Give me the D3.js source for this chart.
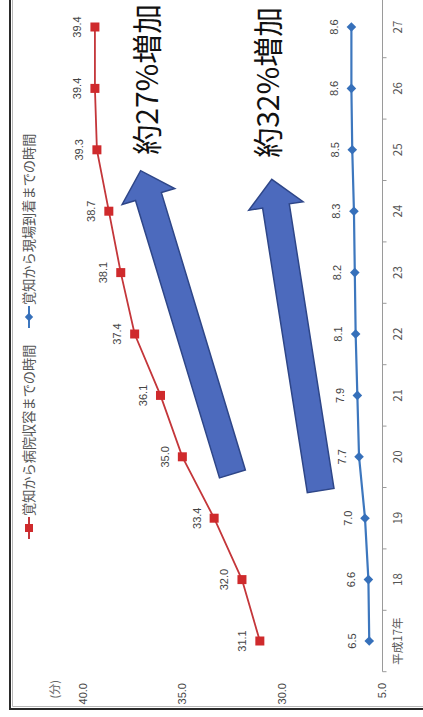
<!DOCTYPE html>
<html>
<head>
<meta charset="utf-8">
<script src="https://cdn.jsdelivr.net/npm/d3@7"></script>
<style>
  body { margin: 0; background: #fff; }
  svg { display: block; }
</style>
</head>
<body>
<svg id="chart" width="423" height="717"></svg>
<script>
// ---- data ----
const categories = ["平成17年", "18", "19", "20", "21", "22", "23", "24", "25", "26", "27"];
const hospitalTimes = [31.1, 32.0, 33.4, 35.0, 36.1, 37.4, 38.1, 38.7, 39.3, 39.4, 39.4];
const sceneTimes = [6.5, 6.6, 7.0, 7.7, 7.9, 8.1, 8.2, 8.3, 8.5, 8.6, 8.6];
const upperTicks = [30, 35, 40];
const lowerTicks = [5];
const seriesNames = ["覚知から病院収容までの時間", "覚知から現場到着までの時間"];
const increaseNotes = ["約27%増加", "約32%増加"];
const unitLabel = "(分)";

// ---- layout (drawn landscape, then turned upright) ----
const SW = 423, SH = 717;           // page size
const W = SH, H = SW;               // landscape frame
const RED = "#C4363A", RED_MARK = "#CF2A2C";
const BLUE = "#3D77BE", BLUE_MARK = "#3670BA";
const NUM_FONT = "'Liberation Sans', Arial, sans-serif";
const JP_FONT = "'Noto Sans CJK JP', 'Noto Sans', sans-serif";

const svg = d3.select("#chart");
svg.append("rect").attr("width", SW).attr("height", SH).attr("fill", "#fff");

const g = svg.append("g").attr("transform", `translate(0,${SH}) rotate(-90)`);

// scales
const x = d3.scaleBand().domain(categories).range([45.3, 720.7]);
const cx = c => x(c) + x.bandwidth() / 2;
const xi = d3.scaleLinear().domain([0, categories.length - 1])
  .range([cx(categories[0]), cx(categories[categories.length - 1])]);
const yUpper = d3.scaleLinear().domain([30, 40]).range([281.7, 83]);
const yLower = d3.scaleLinear().domain([5, 9]).range([382, 348]);
const axisY = yLower(5);

// frame
g.append("line").attr("x1", 8.5).attr("x2", W).attr("y1", 10).attr("y2", 10)
  .attr("stroke", "#2a2a2a").attr("stroke-width", 2);
g.append("line").attr("x1", 8).attr("x2", 8).attr("y1", 9).attr("y2", H)
  .attr("stroke", "#2a2a2a").attr("stroke-width", 2);
g.append("line").attr("x1", 10.5).attr("x2", W).attr("y1", 12.5).attr("y2", 12.5)
  .attr("stroke", "#b8b8b8").attr("stroke-width", 1);
g.append("line").attr("x1", 10.5).attr("x2", 10.5).attr("y1", 12.5).attr("y2", H)
  .attr("stroke", "#b8b8b8").attr("stroke-width", 1);

// category axis
const [r0, r1] = x.range();
g.append("line").attr("x1", r0).attr("x2", r1).attr("y1", axisY + 0.5).attr("y2", axisY + 0.5)
  .attr("stroke", "#9a9a9a").attr("stroke-width", 1);
const tickPos = categories.map(c => x(c)).concat([r1]);
g.selectAll(".cat-tick").data(tickPos).join("line")
  .attr("x1", d => d).attr("x2", d => d)
  .attr("y1", axisY + 0.5).attr("y2", axisY + 4.5)
  .attr("stroke", "#9a9a9a").attr("stroke-width", 1);
g.selectAll(".cat-label").data(categories).join("text")
  .attr("x", d => cx(d)).attr("y", 401.5)
  .attr("text-anchor", "middle")
  .attr("font-family", JP_FONT).attr("font-size", 11.5).attr("fill", "#555")
  .text(d => d);

// value tick labels (broken scale: upper band for the long series, lower band for the short one)
const valueTicks = upperTicks.map(v => ({ v, y: yUpper(v) }))
  .concat(lowerTicks.map(v => ({ v, y: yLower(v) })));
g.selectAll(".val-label").data(valueTicks).join("text")
  .attr("x", 34).attr("y", d => d.y + 4)
  .attr("text-anchor", "end")
  .attr("font-family", NUM_FONT).attr("font-size", 11).attr("fill", "#444")
  .text(d => d.v.toFixed(1));
g.append("text").attr("x", 37).attr("y", 59).attr("text-anchor", "end")
  .attr("font-family", JP_FONT).attr("font-size", 11).attr("fill", "#666")
  .text(unitLabel);

// increase arrows with their notes
const arrowSpecs = [
  { tail: [2.72, 32.48], tip: [7.66, 37.10], note: increaseNotes[0], noteAt: [7.92, 36.23] },
  { tail: [2.45, 28.04], tip: [7.52, 30.50], note: increaseNotes[1], noteAt: [7.87, 30.14] }
];
function arrowPath(tail, tip, shaftW, headW, headL) {
  const dx = tip[0] - tail[0], dy = tip[1] - tail[1];
  const len = Math.hypot(dx, dy);
  const ux = dx / len, uy = dy / len, nx = -uy, ny = ux;
  const bx = tip[0] - ux * headL, by = tip[1] - uy * headL;
  const p = (px, py, k) => [px + nx * k, py + ny * k];
  const pts = [
    p(tail[0], tail[1], shaftW / 2), p(bx, by, shaftW / 2), p(bx, by, headW / 2),
    tip, p(bx, by, -headW / 2), p(bx, by, -shaftW / 2), p(tail[0], tail[1], -shaftW / 2)
  ];
  return "M" + pts.map(q => q.join(",")).join("L") + "Z";
}
arrowSpecs.forEach(a => {
  const t = [xi(a.tail[0]), yUpper(a.tail[1])];
  const h = [xi(a.tip[0]), yUpper(a.tip[1])];
  g.append("path").attr("d", arrowPath(t, h, 27, 55, 27))
    .attr("fill", "#4C6ABD").attr("stroke", "#2E4688").attr("stroke-width", 1.5)
    .attr("stroke-linejoin", "miter");
  g.append("text")
    .attr("x", xi(a.noteAt[0])).attr("y", yUpper(a.noteAt[1]))
    .attr("font-family", JP_FONT).attr("font-size", 30).attr("fill", "#111")
    .text(a.note);
});

// series lines
const lineUpper = d3.line().x((d, i) => cx(categories[i])).y(d => yUpper(d));
const lineLower = d3.line().x((d, i) => cx(categories[i])).y(d => yLower(d));
g.append("path").attr("d", lineUpper(hospitalTimes))
  .attr("fill", "none").attr("stroke", RED).attr("stroke-width", 1.8);
g.append("path").attr("d", lineLower(sceneTimes))
  .attr("fill", "none").attr("stroke", BLUE).attr("stroke-width", 2.2);

// markers
g.selectAll(".sq").data(hospitalTimes).join("rect")
  .attr("x", (d, i) => cx(categories[i]) - 4.5).attr("y", d => yUpper(d) - 4.5)
  .attr("width", 9).attr("height", 9).attr("fill", RED_MARK);
const diamond = r => `M0,${-r}L${r},0L0,${r}L${-r},0Z`;
g.selectAll(".dm").data(sceneTimes).join("path")
  .attr("transform", (d, i) => `translate(${cx(categories[i])},${yLower(d)})`)
  .attr("d", diamond(4.8)).attr("fill", BLUE_MARK);

// value labels
g.selectAll(".lab-u").data(hospitalTimes).join("text")
  .attr("x", (d, i) => cx(categories[i])).attr("y", d => yUpper(d) - 13.5)
  .attr("text-anchor", "middle").attr("font-family", NUM_FONT)
  .attr("font-size", 11).attr("fill", "#444").text(d => d.toFixed(1));
g.selectAll(".lab-l").data(sceneTimes).join("text")
  .attr("x", (d, i) => cx(categories[i])).attr("y", d => yLower(d) - 13.5)
  .attr("text-anchor", "middle").attr("font-family", NUM_FONT)
  .attr("font-size", 11).attr("fill", "#444").text(d => d.toFixed(1));

// legend
const legendItems = [
  { name: seriesNames[0], color: RED, start: 178, kind: "square" },
  { name: seriesNames[1], color: BLUE, start: 389, kind: "diamond" }
];
legendItems.forEach(it => {
  const ly = 29;
  g.append("line").attr("x1", it.start).attr("x2", it.start + 22)
    .attr("y1", ly).attr("y2", ly).attr("stroke", it.color).attr("stroke-width", 2);
  if (it.kind === "square") {
    g.append("rect").attr("x", it.start + 11 - 4).attr("y", ly - 4)
      .attr("width", 8).attr("height", 8).attr("fill", RED_MARK);
  } else {
    g.append("path").attr("transform", `translate(${it.start + 11},${ly})`)
      .attr("d", diamond(4.2)).attr("fill", BLUE_MARK);
  }
  g.append("text").attr("x", it.start + 23).attr("y", ly + 5)
    .attr("font-family", JP_FONT).attr("font-size", 13.2).attr("fill", "#555")
    .text(it.name);
});
</script>
</body>
</html>
